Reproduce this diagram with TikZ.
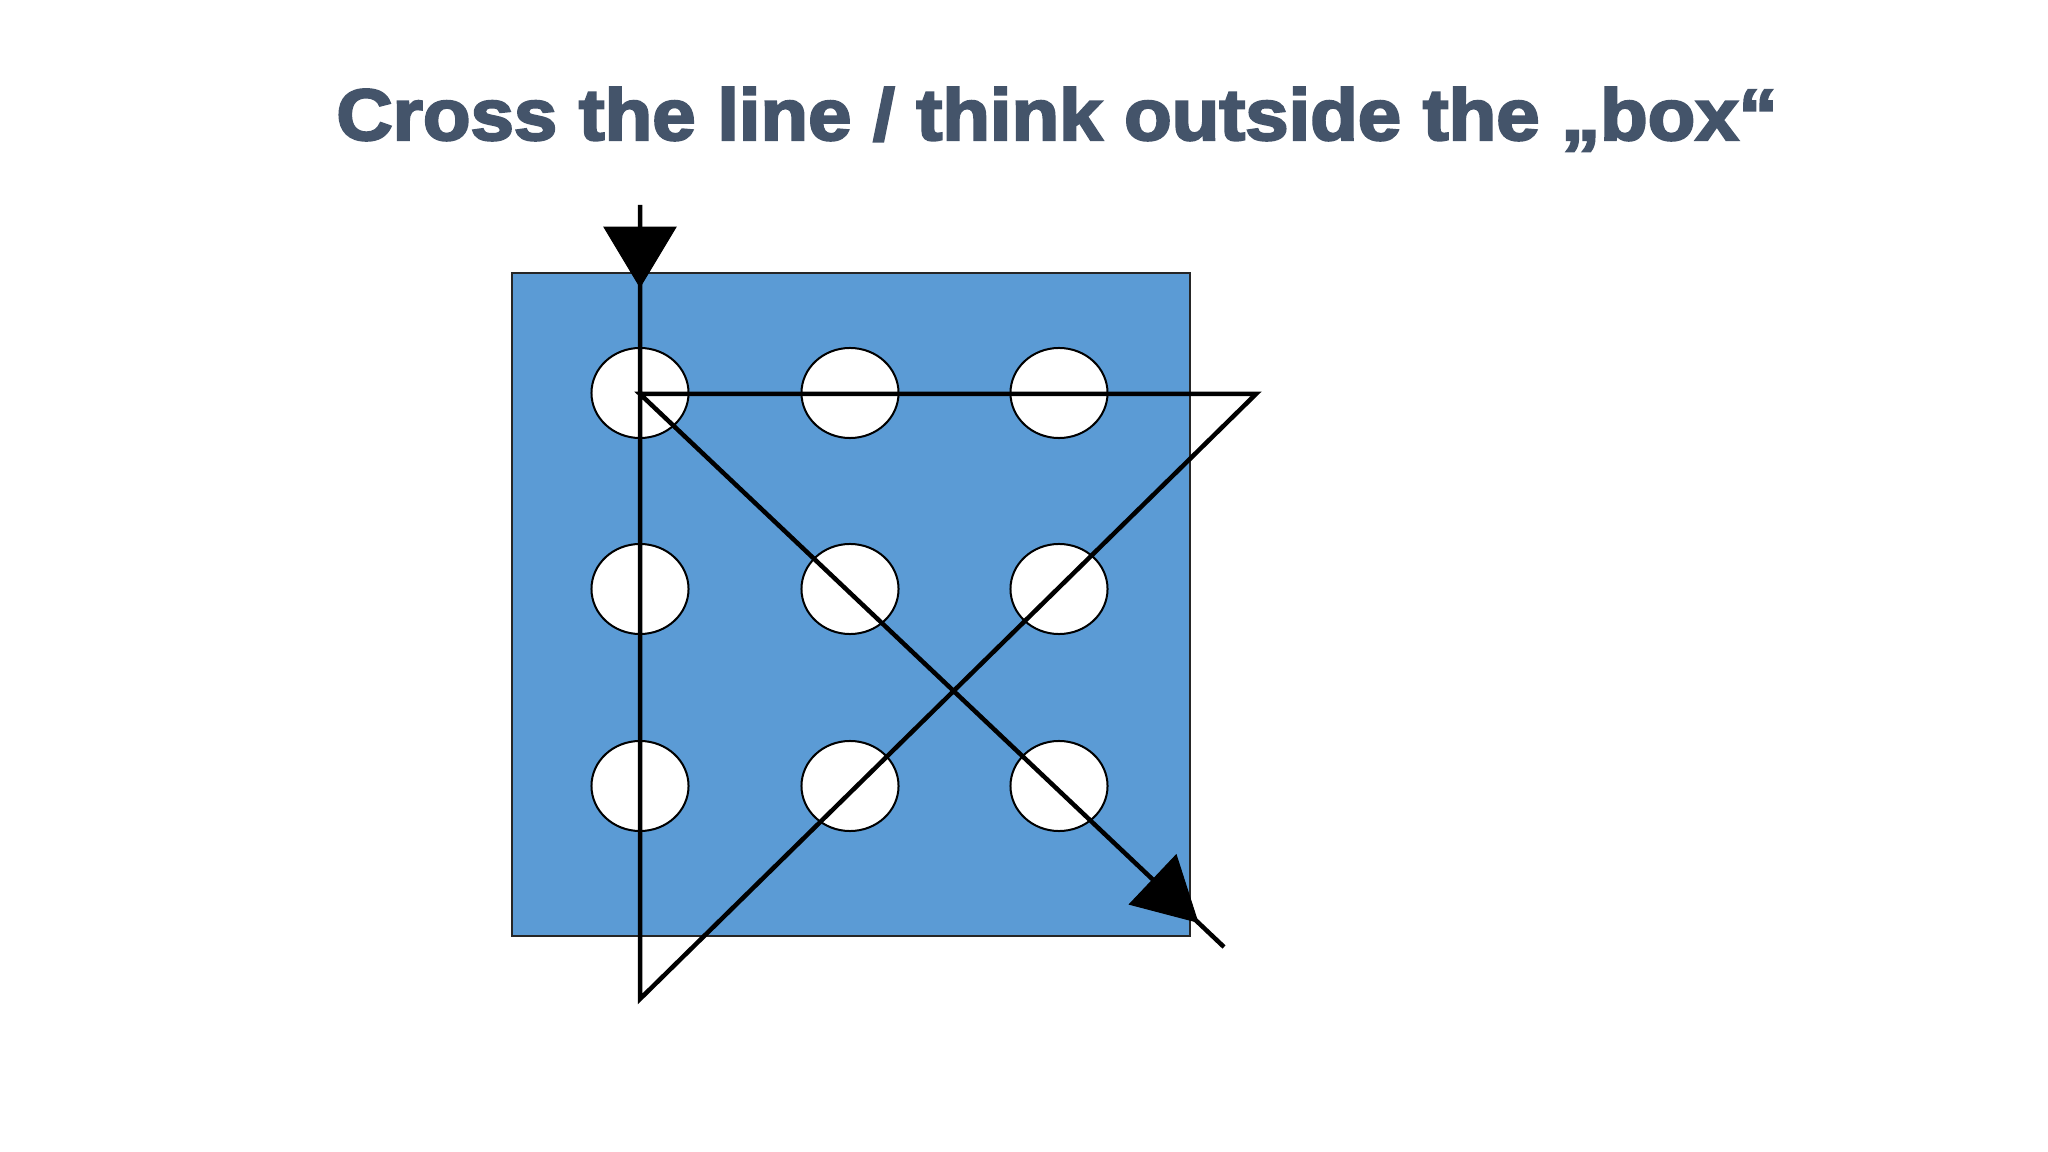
\documentclass[tikz,border=0pt]{standalone}
\usepackage{fontspec}
\newfontfamily\titlefont{Liberation Sans Bold}[FakeBold=3]
\usetikzlibrary{calc,shapes.geometric}
\definecolor{titlecol}{HTML}{44546A}
\definecolor{boxblue}{HTML}{5B9BD5}
\tikzset{
  dotnode/.style={ellipse, draw=black, fill=white, line width=0.02cm, inner sep=0pt, minimum width=0.97cm, minimum height=0.9cm},
  boxnode/.style={rectangle, draw=black!85, fill=boxblue, line width=0.015cm, inner sep=0pt},
  pathline/.style={draw=black, line width=0.045cm, line join=miter},
  headtri/.style={fill=black, draw=black, line width=0.01cm, line join=miter},
  titlenode/.style={font=\titlefont\fontsize{20.7pt}{24pt}\selectfont, text=titlecol, inner sep=0pt, xscale=1.07}
}
\begin{document}
\begin{tikzpicture}[x=0.01cm, y=-0.01cm]
\useasboundingbox (0,0) rectangle (2048,1152);
\fill[white] (0,0) rectangle (2048,1152);
\node[titlenode, anchor=base] (title) at (1057,140) {Cross the line / think outside the „box“};
\node[boxnode, minimum width=6.78cm, minimum height=6.63cm] (box) at (851,604.5) {};
\foreach \i/\x in {1/640,2/850,3/1059}{
  \foreach \j/\y in {1/393,2/589,3/786}{
    \node[dotnode] (d\i\j) at (\x,\y) {};
  }
}
\coordinate (s) at (640,205);
\coordinate (a) at (640,999);
\coordinate (b) at (1256,394);
\coordinate (c) at (640,394);
\coordinate (e) at (1224,947);
\draw[pathline] (s) -- (a) -- (b) -- (c) -- (e);
% top arrowhead
\coordinate (t1) at ($(s)!0.82cm!(a)$);
\coordinate (t0) at ($(s)!0.22cm!(a)$);
\fill[headtri] (t1) -- ($(t0)!0.36cm!90:(a)$) -- ($(t0)!0.36cm!-90:(a)$) -- cycle;
% end arrowhead
\coordinate (h1) at ($(e)!0.36cm!(c)$);
\coordinate (h0) at ($(e)!0.98cm!(c)$);
\fill[headtri] (h1) -- ($(h0)!0.34cm!90:(c)$) -- ($(h0)!0.34cm!-90:(c)$) -- cycle;
\end{tikzpicture}
\end{document}
